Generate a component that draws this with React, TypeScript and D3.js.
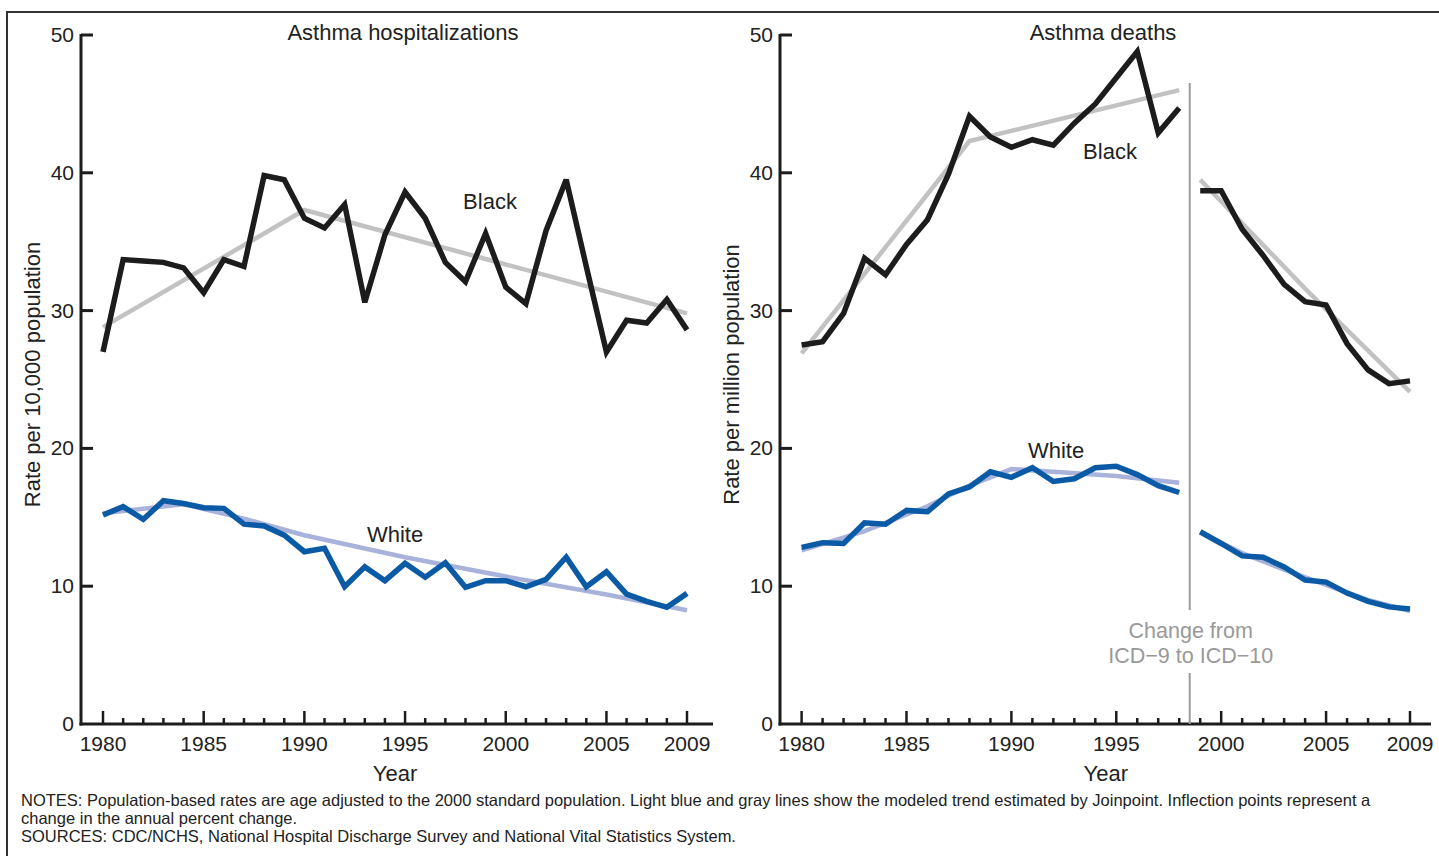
import React from "react";
import * as d3 from "d3";

// ---------- Data ----------
const YEARS = d3.range(1980, 2010);
const TICK_YEARS = [1980, 1985, 1990, 1995, 2000, 2005, 2009];
const Y_TICKS = [0, 10, 20, 30, 40, 50];

// Asthma hospitalizations (rate per 10,000)
const hospBlack = [27.0, 33.7, 33.6, 33.5, 33.1, 31.3, 33.7, 33.2, 39.8, 39.5, 36.7, 36.0, 37.7, 30.6, 35.5, 38.6, 36.7, 33.5, 32.1, 35.6, 31.7, 30.5, 35.8, 39.5, 33.2, 27.0, 29.3, 29.1, 30.8, 28.6];
const hospWhite = [15.17, 15.77, 14.85, 16.2, 16.0, 15.7, 15.65, 14.5, 14.37, 13.7, 12.5, 12.75, 9.96, 11.4, 10.4, 11.66, 10.65, 11.7, 9.92, 10.4, 10.4, 9.96, 10.5, 12.1, 9.96, 11.05, 9.43, 8.9, 8.47, 9.48];
const hospBlackTrendYears = [1980, 1990, 2009];
const hospBlackTrend = [28.8, 37.3, 29.8];
const hospWhiteTrendYears = [1980, 1984, 1987, 1990, 1995, 2000, 2005, 2009];
const hospWhiteTrend = [15.3, 15.95, 14.9, 13.7, 12.1, 10.7, 9.4, 8.25];

// Asthma deaths (rate per million)
const deathYears1 = d3.range(1980, 1999);
const deathYears2 = d3.range(1999, 2010);
const deathBlack1 = [27.5, 27.75, 29.8, 33.8, 32.6, 34.8, 36.6, 39.9, 44.1, 42.6, 41.85, 42.4, 42.0, 43.6, 45.0, 46.9, 48.8, 42.9, 44.7];
const deathBlack2 = [38.7, 38.7, 35.9, 34.0, 31.9, 30.65, 30.4, 27.6, 25.7, 24.7, 24.9];
const deathWhite1 = [12.82, 13.16, 13.1, 14.6, 14.5, 15.5, 15.4, 16.7, 17.2, 18.3, 17.9, 18.6, 17.6, 17.8, 18.6, 18.7, 18.1, 17.3, 16.8];
const deathWhite2 = [13.95, 13.1, 12.2, 12.1, 11.4, 10.45, 10.3, 9.5, 8.9, 8.5, 8.35];
const deathBlackTrend1Years = [1980, 1988, 1998];
const deathBlackTrend1 = [26.9, 42.3, 46.0];
const deathBlackTrend2Years = [1999, 2004, 2009];
const deathBlackTrend2 = [39.5, 31.6, 24.1];
const deathWhiteTrend1Years = [1980, 1983, 1986, 1988, 1990, 1992, 1995, 1998];
const deathWhiteTrend1 = [12.6, 14.0, 15.8, 17.3, 18.5, 18.3, 18.0, 17.5];
const deathWhiteTrend2Years = [1999, 2001, 2003, 2005, 2007, 2009];
const deathWhiteTrend2 = [13.9, 12.4, 11.2, 10.1, 9.0, 8.2];

const ICD_CHANGE_YEAR = 1998.5;

const NOTES = [
  "NOTES: Population-based rates are age adjusted to the 2000 standard population. Light blue and gray lines show the modeled trend estimated by Joinpoint. Inflection points represent a",
  "change in the annual percent change.",
  "SOURCES: CDC/NCHS, National Hospital Discharge Survey and National Vital Statistics System.",
];

// ---------- Styles ----------
const FONT = "'Liberation Sans', Arial, Helvetica, sans-serif";
const BLACK = "#1c1c1c";
const BLUE = "#0b5aa6";
const GRAY_TREND = "#c2c2c2";
const BLUE_TREND = "#a8b2da";
const TEXT = "#222";

type Pt = [number, number];
const zip = (xs: number[], ys: number[]): Pt[] => xs.map((x, i) => [x, ys[i]]);

interface PanelProps {
  axisX: number;
  xStart: number;
  xEnd: number;
  axisEnd: number;
  title: string;
  titleX: number;
  yLabel: string;
  children: (x: d3.ScaleLinear<number, number>, y: d3.ScaleLinear<number, number>) => React.ReactNode;
}

const Y_TOP = 35;
const Y_BOTTOM = 724;

function Panel({ axisX, xStart, xEnd, axisEnd, title, titleX, yLabel, children }: PanelProps) {
  const x = d3.scaleLinear().domain([1980, 2009]).range([xStart, xEnd]);
  const y = d3.scaleLinear().domain([0, 50]).range([Y_BOTTOM, Y_TOP]);
  const centerX = (axisX + axisEnd) / 2;
  return (
    <g>
      {/* title */}
      <text x={titleX} y={40} textAnchor="middle" fontSize={22} fontFamily={FONT} fill={TEXT}>
        {title}
      </text>
      {/* y axis */}
      <line x1={axisX} x2={axisX} y1={y(50) - 1} y2={Y_BOTTOM + 1.5} stroke={BLACK} strokeWidth={3} />
      {Y_TICKS.map((t) => (
        <g key={t}>
          {t > 0 && <line x1={axisX} x2={axisX + 12} y1={y(t)} y2={y(t)} stroke={BLACK} strokeWidth={3} />}
          <text x={axisX - 7} y={y(t) + 7} textAnchor="end" fontSize={21} fontFamily={FONT} fill={TEXT}>
            {t}
          </text>
        </g>
      ))}
      {/* x axis */}
      <line x1={axisX - 1.5} x2={axisEnd} y1={Y_BOTTOM} y2={Y_BOTTOM} stroke={BLACK} strokeWidth={3} />
      {YEARS.map((yr) => {
        const major = TICK_YEARS.includes(yr);
        return (
          <line key={yr} x1={x(yr)} x2={x(yr)} y1={Y_BOTTOM} y2={Y_BOTTOM - (major ? 13 : 6)} stroke={BLACK} strokeWidth={2.5} />
        );
      })}
      {TICK_YEARS.map((yr) => (
        <text key={yr} x={x(yr)} y={751} textAnchor="middle" fontSize={21} fontFamily={FONT} fill={TEXT}>
          {yr}
        </text>
      ))}
      <text x={(x(1980) + x(2009)) / 2} y={781} textAnchor="middle" fontSize={22} fontFamily={FONT} fill={TEXT}>
        Year
      </text>
      <text
        transform={`translate(${axisX - 41},${(Y_TOP + Y_BOTTOM) / 2 - 5}) rotate(-90)`}
        textAnchor="middle"
        fontSize={22}
        fontFamily={FONT}
        fill={TEXT}
      >
        {yLabel}
      </text>
      {children(x, y)}
    </g>
  );
}

function Series({ pts, x, y, color, width }: { pts: Pt[]; x: any; y: any; color: string; width: number }) {
  const line = d3
    .line<Pt>()
    .x((d) => x(d[0]))
    .y((d) => y(d[1]));
  return <path d={line(pts) || ""} fill="none" stroke={color} strokeWidth={width} strokeLinejoin="miter" strokeMiterlimit={3} />;
}

export default function App() {
  return (
    <div style={{ position: "absolute", left: 0, top: 0 }}>
      <svg width={1439} height={856} style={{ display: "block", background: "#fff" }}>
        <rect x={7} y={12} width={1445} height={860} fill="none" stroke="#333" strokeWidth={2} />

        <Panel axisX={81} xStart={103} xEnd={687} axisEnd={713} title="Asthma hospitalizations" titleX={403} yLabel="Rate per 10,000 population">
          {(x, y) => (
            <g>
              <Series pts={zip(hospBlackTrendYears, hospBlackTrend)} x={x} y={y} color={GRAY_TREND} width={4.5} />
              <Series pts={zip(hospWhiteTrendYears, hospWhiteTrend)} x={x} y={y} color={BLUE_TREND} width={4.5} />
              <Series pts={zip(YEARS, hospBlack)} x={x} y={y} color={BLACK} width={5.5} />
              <Series pts={zip(YEARS, hospWhite)} x={x} y={y} color={BLUE} width={5.5} />
              <text x={490} y={209} textAnchor="middle" fontSize={22} fontFamily={FONT} fill={TEXT}>Black</text>
              <text x={395} y={542} textAnchor="middle" fontSize={22} fontFamily={FONT} fill={TEXT}>White</text>
            </g>
          )}
        </Panel>

        <Panel axisX={780} xStart={801.6} xEnd={1410} axisEnd={1431} title="Asthma deaths" titleX={1103} yLabel="Rate per million population">
          {(x, y) => (
            <g>
              {/* ICD change marker */}
              <line x1={x(ICD_CHANGE_YEAR)} x2={x(ICD_CHANGE_YEAR)} y1={83} y2={610} stroke="#9a9a9a" strokeWidth={2} />
              <line x1={x(ICD_CHANGE_YEAR)} x2={x(ICD_CHANGE_YEAR)} y1={673} y2={Y_BOTTOM} stroke="#9a9a9a" strokeWidth={2} />
              <text x={x(ICD_CHANGE_YEAR) + 1} y={638} textAnchor="middle" fontSize={21.5} fontFamily={FONT} fill="#999">Change from</text>
              <text x={x(ICD_CHANGE_YEAR) + 1} y={663} textAnchor="middle" fontSize={21.5} fontFamily={FONT} fill="#999">ICD−9 to ICD−10</text>

              <Series pts={zip(deathBlackTrend1Years, deathBlackTrend1)} x={x} y={y} color={GRAY_TREND} width={4.5} />
              <Series pts={zip(deathBlackTrend2Years, deathBlackTrend2)} x={x} y={y} color={GRAY_TREND} width={4.5} />
              <Series pts={zip(deathWhiteTrend1Years, deathWhiteTrend1)} x={x} y={y} color={BLUE_TREND} width={4.5} />
              <Series pts={zip(deathWhiteTrend2Years, deathWhiteTrend2)} x={x} y={y} color={BLUE_TREND} width={4.5} />
              <Series pts={zip(deathYears1, deathBlack1)} x={x} y={y} color={BLACK} width={5.5} />
              <Series pts={zip(deathYears2, deathBlack2)} x={x} y={y} color={BLACK} width={5.5} />
              <Series pts={zip(deathYears1, deathWhite1)} x={x} y={y} color={BLUE} width={5.5} />
              <Series pts={zip(deathYears2, deathWhite2)} x={x} y={y} color={BLUE} width={5.5} />
              <text x={1110} y={159} textAnchor="middle" fontSize={22} fontFamily={FONT} fill={TEXT}>Black</text>
              <text x={1056} y={458} textAnchor="middle" fontSize={22} fontFamily={FONT} fill={TEXT}>White</text>
            </g>
          )}
        </Panel>

        {NOTES.map((n, i) => (
          <text key={i} x={21} y={806 + i * 18} fontSize={16.5} fontFamily={FONT} fill={TEXT}>
            {n}
          </text>
        ))}
      </svg>
    </div>
  );
}
